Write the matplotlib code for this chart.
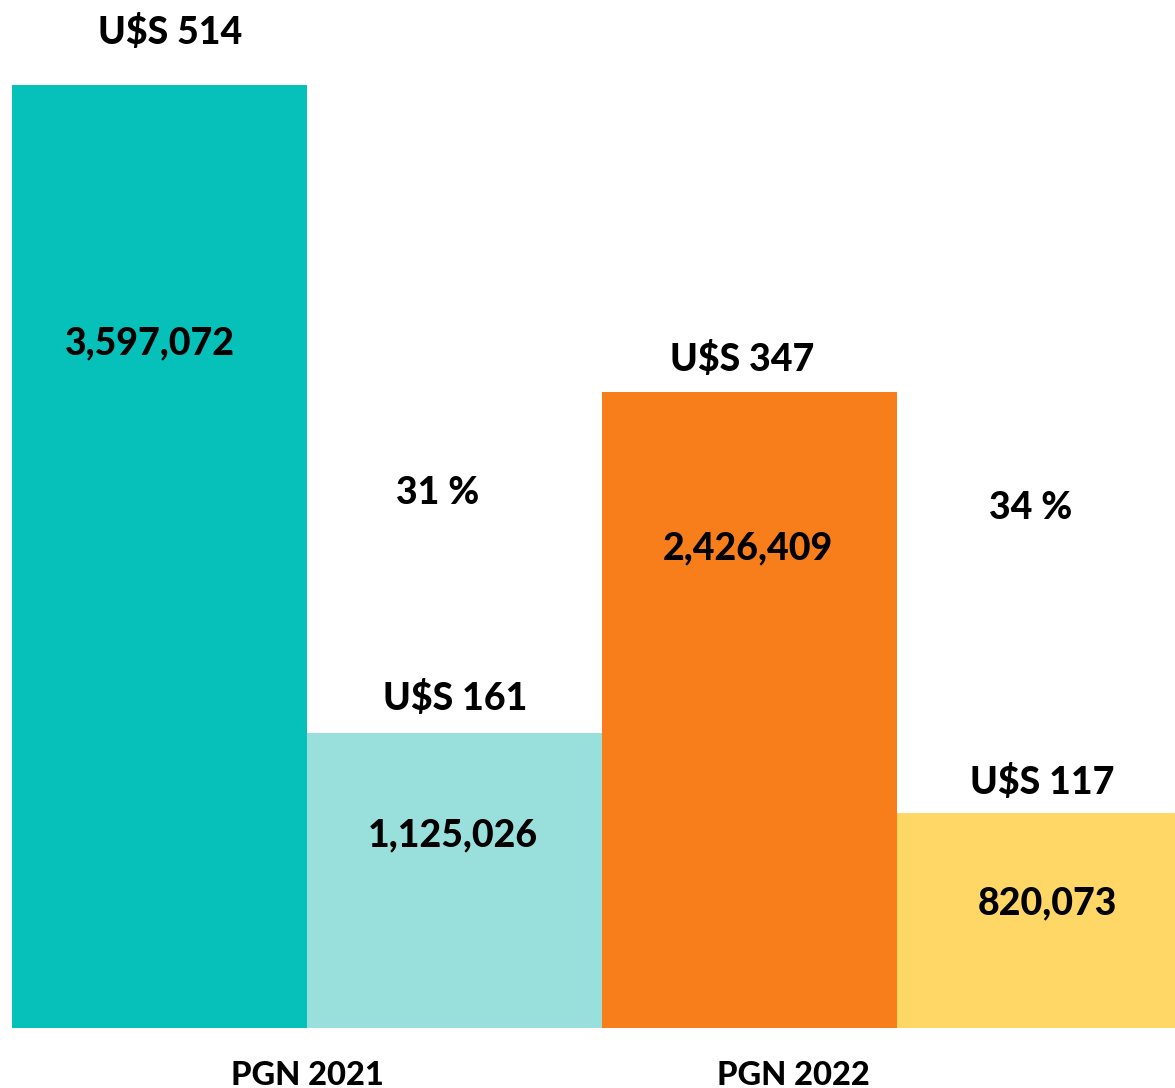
import numpy as np
import matplotlib.pyplot as plt

# datos
barras = ['PGN 2021 total', 'PGN 2021 parte', 'PGN 2022 total', 'PGN 2022 parte']
valores = [3597072, 1125026, 2426409, 820073]
usd = ['U$S 514', 'U$S 161', 'U$S 347', 'U$S 117']
porcentajes = ['31 %', '34 %']
grupos = ['PGN 2021', 'PGN 2022']
colores = ['#05c1b9', '#99e0dc', '#f87e1b', '#fed766']

plt.rcParams['font.family'] = ['Lato', 'DejaVu Sans']
plt.rcParams['font.weight'] = 'bold'

fig = plt.figure(figsize=(11.75, 10.88), dpi=100)
ax = fig.add_axes([0, 0, 1, 1])

x = np.arange(len(valores))
ax.bar(x, valores, width=1.0, color=colores)

ax.set_xlim(-0.5407, 3.442)
ax.set_ylim(-228870, 3921307)
ax.axis('off')

fs = 27
# numeros dentro de las barras
pos_num = [(-0.032, 2.613e6), (0.995, 0.736e6), (1.995, 1.831e6), (3.008, 0.477e6)]
for (px, py), v in zip(pos_num, valores):
    ax.text(px, py, f'{v:,}', ha='center', va='center', fontsize=fs, fontweight='black')

# dolares arriba
pos_usd = [(0.036, 3.80e6), (1.002, 1.26e6), (1.975, 2.55e6), (2.992, 0.94e6)]
for (px, py), t in zip(pos_usd, usd):
    ax.text(px, py, t, ha='center', va='center', fontsize=fs, fontweight='black')

# porcentajes
pos_pct = [(0.944, 2.04e6), (2.954, 1.984e6)]
for (px, py), t in zip(pos_pct, porcentajes):
    ax.text(px, py, t, ha='center', va='center', fontsize=fs, fontweight='black')

# etiquetas de grupo
pos_grp = [0.5, 2.15]
for px, t in zip(pos_grp, grupos):
    ax.text(px, -180000, t, ha='center', va='center', fontsize=23.5, fontweight='black')

fig.savefig('out.png', dpi=100)
